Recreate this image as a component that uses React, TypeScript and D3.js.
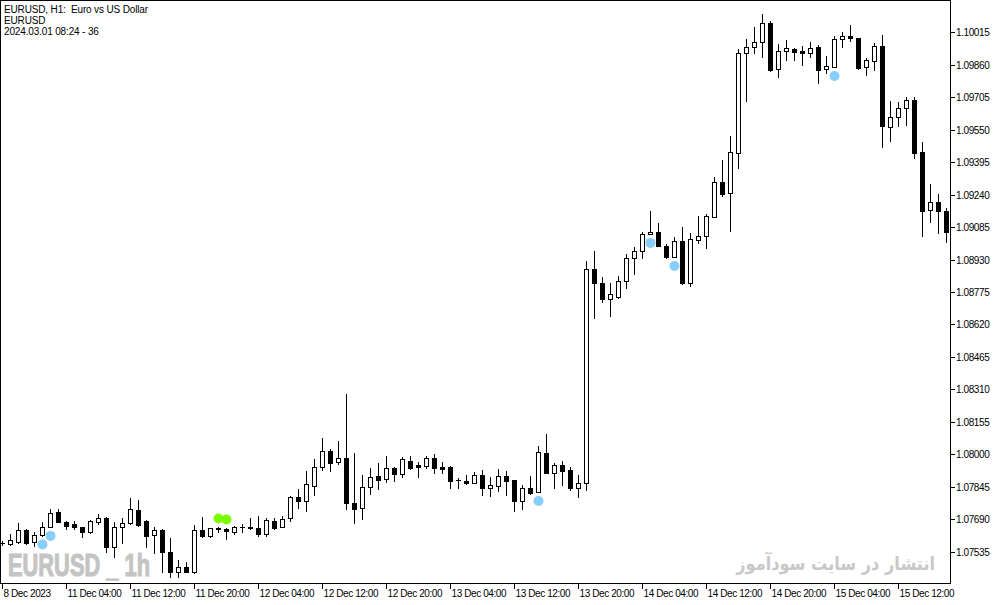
// App.tsx - EURUSD H1 candlestick chart (MT5 style)
import React, { useEffect, useRef } from "react"
import * as d3 from "d3"

// hourly bars from 8 Dec 2023 20:00 to 15 Dec 2023 18:00
const opens = [
    1.07576, 1.07571, 1.07582, 1.07639, 1.07582, 1.07615, 1.07653, 1.07724, 1.07677, 1.07667,
    1.07653, 1.07629, 1.07677, 1.07696, 1.07557, 1.07653, 1.07672, 1.07734, 1.07681, 1.07615,
    1.07639, 1.07533, 1.07438, 1.07462, 1.07438, 1.07639, 1.0761, 1.07648, 1.07643, 1.07629,
    1.07653, 1.07653, 1.07648, 1.0762, 1.07681, 1.07653, 1.07696, 1.07796, 1.07777, 1.07849,
    1.07939, 1.08015, 1.07963, 1.07982, 1.07767, 1.07743, 1.07844, 1.07896, 1.07882, 1.07934,
    1.07906, 1.07968, 1.07949, 1.07944, 1.07982, 1.07939, 1.07939, 1.07877, 1.07873, 1.07863,
    1.07901, 1.07839, 1.07849, 1.07896, 1.07877, 1.07777, 1.07839, 1.0782, 1.08006, 1.07911,
    1.07949, 1.07925, 1.07839, 1.07863, 1.08885, 1.08818, 1.08742, 1.08751, 1.08828, 1.08937,
    1.08971, 1.09052, 1.09062, 1.08995, 1.08942, 1.09019, 1.08818, 1.09023, 1.09042, 1.09133,
    1.093, 1.09248, 1.09439, 1.09917, 1.09945, 1.09969, 1.10059, 1.0984, 1.09926, 1.09936,
    1.09926, 1.09917, 1.09945, 1.0984, 1.09849, 1.09983, 1.09997, 1.09988, 1.09849, 1.09878,
    1.0995, 1.09563, 1.0961, 1.09653, 1.09692, 1.09444, 1.09166, 1.09205, 1.09161,
]
const highs = [
    1.07586, 1.0762, 1.07672, 1.07643, 1.07629, 1.07677, 1.07738, 1.07738, 1.07681, 1.07681,
    1.07655, 1.07686, 1.07715, 1.077, 1.07677, 1.07696, 1.07791, 1.07781, 1.07686, 1.07653,
    1.07642, 1.07601, 1.07495, 1.07485, 1.07662, 1.077, 1.0765, 1.07653, 1.07648, 1.07658,
    1.07667, 1.07696, 1.07705, 1.07696, 1.07696, 1.07705, 1.078, 1.07835, 1.0792, 1.07977,
    1.08078, 1.08025, 1.08064, 1.08288, 1.08006, 1.07901, 1.07934, 1.07958, 1.07991, 1.07939,
    1.07987, 1.07991, 1.07963, 1.07991, 1.08001, 1.07963, 1.07944, 1.07887, 1.07901, 1.07915,
    1.07925, 1.07892, 1.0793, 1.0792, 1.07879, 1.07854, 1.07896, 1.08039, 1.08097, 1.07958,
    1.07968, 1.07939, 1.07901, 1.08923, 1.08971, 1.08847, 1.08818, 1.08851, 1.08957, 1.0899,
    1.09062, 1.09161, 1.09104, 1.09004, 1.09038, 1.09085, 1.09057, 1.09138, 1.09147, 1.09324,
    1.09405, 1.0952, 1.09936, 1.09983, 1.1004, 1.10102, 1.10069, 1.09959, 1.09978, 1.0994,
    1.0995, 1.09969, 1.09955, 1.09902, 1.09997, 1.10016, 1.1005, 1.0999, 1.09893, 1.09964,
    1.10002, 1.09687, 1.09683, 1.09706, 1.09706, 1.09491, 1.09291, 1.09243, 1.09176,
]
const lows = [
    1.07566, 1.07566, 1.07576, 1.07571, 1.07562, 1.0761, 1.07651, 1.07675, 1.07643, 1.07643,
    1.07605, 1.07624, 1.07667, 1.07533, 1.07509, 1.07576, 1.07667, 1.0766, 1.07557, 1.07528,
    1.07438, 1.07414, 1.07414, 1.07436, 1.07433, 1.07605, 1.07605, 1.07629, 1.07596, 1.0762,
    1.07629, 1.07643, 1.0761, 1.0761, 1.07643, 1.07651, 1.07681, 1.07743, 1.07729, 1.07805,
    1.07925, 1.0792, 1.07953, 1.07738, 1.07672, 1.07691, 1.07811, 1.07835, 1.07868, 1.07873,
    1.07892, 1.07932, 1.07892, 1.07937, 1.07911, 1.07911, 1.07839, 1.07839, 1.07858, 1.07861,
    1.07805, 1.078, 1.07825, 1.07805, 1.07729, 1.07738, 1.07811, 1.07818, 1.07909, 1.07839,
    1.07854, 1.0783, 1.07796, 1.0783, 1.08651, 1.08727, 1.0866, 1.08747, 1.08794, 1.08861,
    1.08937, 1.0905, 1.08993, 1.08937, 1.0894, 1.08813, 1.08804, 1.09009, 1.08985, 1.09131,
    1.09234, 1.09066, 1.09367, 1.09687, 1.09917, 1.09898, 1.0983, 1.09801, 1.09882, 1.09882,
    1.09859, 1.09898, 1.09773, 1.0982, 1.09847, 1.09945, 1.09974, 1.0984, 1.09811, 1.09835,
    1.09468, 1.09496, 1.09567, 1.09572, 1.09414, 1.09042, 1.09109, 1.09057, 1.09014,
]
const closes = [
    1.07576, 1.07591, 1.07639, 1.07576, 1.07615, 1.07653, 1.07719, 1.07677, 1.07658, 1.07653,
    1.07629, 1.07681, 1.07696, 1.07557, 1.07653, 1.07672, 1.07738, 1.07662, 1.0761, 1.07639,
    1.07533, 1.07438, 1.07462, 1.07438, 1.07639, 1.0761, 1.07648, 1.07643, 1.07634, 1.07653,
    1.07652, 1.07648, 1.0762, 1.07686, 1.07648, 1.07691, 1.07796, 1.07777, 1.07858, 1.07939,
    1.08015, 1.07958, 1.07982, 1.07767, 1.07738, 1.07844, 1.07892, 1.07877, 1.07934, 1.07906,
    1.07977, 1.07934, 1.07939, 1.07982, 1.07934, 1.0793, 1.07873, 1.07876, 1.07863, 1.07901,
    1.07839, 1.07854, 1.07896, 1.07873, 1.07777, 1.07839, 1.07816, 1.0801, 1.07911, 1.07949,
    1.0792, 1.07839, 1.07863, 1.08885, 1.08818, 1.08742, 1.08766, 1.08828, 1.08937, 1.08971,
    1.09052, 1.09062, 1.08995, 1.08942, 1.09019, 1.08818, 1.09028, 1.09042, 1.09138, 1.093,
    1.09243, 1.09444, 1.09917, 1.09945, 1.09969, 1.10059, 1.09835, 1.09926, 1.0994, 1.09921,
    1.09917, 1.0994, 1.09835, 1.09854, 1.09983, 1.09997, 1.09988, 1.09844, 1.09882, 1.0995,
    1.09567, 1.0961, 1.09653, 1.09692, 1.09439, 1.09161, 1.09205, 1.09161, 1.09062,
]

// signal markers (bar indices)
const blueBelow = [5, 6, 67, 81, 84, 104]
const greenAbove = [27, 28]

// one label every 8 bars
const timeLabels = [
    "8 Dec 2023", "11 Dec 04:00", "11 Dec 12:00", "11 Dec 20:00", "12 Dec 04:00",
    "12 Dec 12:00", "12 Dec 20:00", "13 Dec 04:00", "13 Dec 12:00", "13 Dec 20:00",
    "14 Dec 04:00", "14 Dec 12:00", "14 Dec 20:00", "15 Dec 04:00", "15 Dec 12:00",
]
const priceTicks = [
    1.07535, 1.0769, 1.07845, 1.08, 1.08155, 1.0831, 1.08465, 1.0862, 1.08775,
    1.0893, 1.09085, 1.0924, 1.09395, 1.0955, 1.09705, 1.0986, 1.10015,
]

const headerLines = ["EURUSD, H1:  Euro vs US Dollar", "EURUSD", "2024.03.01 08:24 - 36"]

const W = 1003
const H = 605
const plotRight = 950
const plotBottom = 583
const axisFont = "'Liberation Sans', Arial, sans-serif"

export default function App() {
    const ref = useRef<SVGSVGElement>(null)

    useEffect(() => {
        const svg = d3.select(ref.current)
        svg.selectAll("*").remove()

        const x = d3.scaleLinear().domain([0, opens.length - 1]).range([2, 946])
        const y = d3.scaleLinear().domain([1.07535, 1.10015]).range([551.7, 32.3])

        svg.append("rect").attr("width", W).attr("height", H).attr("fill", "#fff")

        // watermarks
        svg.append("text")
            .attr("x", 8)
            .attr("y", 576)
            .attr("textLength", 142)
            .attr("lengthAdjust", "spacingAndGlyphs")
            .style("white-space", "pre")
            .attr("font-family", axisFont)
            .attr("font-weight", "bold")
            .attr("font-size", 32)
            .attr("fill", "#c4c4c4")
            .attr("stroke", "#c4c4c4")
            .attr("stroke-width", 1.2)
            .text("EURUSD _ 1h")

        svg.append("text")
            .attr("transform", "translate(935,570) scale(0.85,1)")
            .attr("text-anchor", "end")
            .attr("font-family", "'DejaVu Sans', sans-serif")
            .attr("font-weight", "bold")
            .attr("font-size", 19)
            .attr("fill", "#c8c8c8")
            .text("انتشار در سایت سودآموز")

        // header
        svg.append("g")
            .selectAll("text")
            .data(headerLines)
            .join("text")
            .attr("x", 4)
            .attr("y", (_, i) => 13 + i * 11)
            .style("white-space", "pre")
            .attr("font-family", axisFont)
            .attr("font-size", 10)
            .attr("letter-spacing", -0.15)
            .attr("fill", "#000")
            .text((d) => d)

        // candles
        const bars = d3.range(opens.length)
        const g = svg.append("g")
        g.selectAll("line.wick")
            .data(bars)
            .join("line")
            .attr("class", "wick")
            .attr("x1", (i) => x(i) + 0.5)
            .attr("x2", (i) => x(i) + 0.5)
            .attr("y1", (i) => Math.round(y(highs[i])))
            .attr("y2", (i) => Math.round(y(lows[i])) + 1)
            .attr("stroke", "#000")
            .attr("stroke-width", 1)

        bars.forEach((i) => {
            const top = Math.round(y(Math.max(opens[i], closes[i])))
            const bot = Math.round(y(Math.min(opens[i], closes[i])))
            const up = closes[i] > opens[i]
            if (up && bot - top >= 2) {
                g.append("rect")
                    .attr("x", x(i) - 1.5)
                    .attr("y", top + 0.5)
                    .attr("width", 4)
                    .attr("height", bot - top)
                    .attr("fill", "#fff")
                    .attr("stroke", "#000")
                    .attr("stroke-width", 1)
            } else {
                g.append("rect")
                    .attr("x", x(i) - 2)
                    .attr("y", top)
                    .attr("width", 5)
                    .attr("height", Math.max(1, bot - top + 1))
                    .attr("fill", "#000")
            }
        })

        // signal dots
        svg.append("g")
            .selectAll("circle")
            .data(blueBelow)
            .join("circle")
            .attr("cx", (i) => x(i) + 0.5)
            .attr("cy", (i) => y(lows[i]) + 8.5)
            .attr("r", 5)
            .attr("fill", "#87cefa")
        svg.append("g")
            .selectAll("circle")
            .data(greenAbove)
            .join("circle")
            .attr("cx", (i) => x(i) + 0.5)
            .attr("cy", (i) => y(highs[i]) - 8.5)
            .attr("r", 5)
            .attr("fill", "#7cfc00")

        // frame
        svg.append("rect")
            .attr("x", 0.5)
            .attr("y", 0.5)
            .attr("width", plotRight)
            .attr("height", plotBottom)
            .attr("fill", "none")
            .attr("stroke", "#000")

        // price axis
        const py = svg.append("g")
        priceTicks.forEach((t) => {
            const yy = Math.round(y(t)) + 0.5
            py.append("line")
                .attr("x1", plotRight)
                .attr("x2", plotRight + 5)
                .attr("y1", yy)
                .attr("y2", yy)
                .attr("stroke", "#000")
            py.append("text")
                .attr("x", plotRight + 6)
                .attr("y", yy + 3.5)
                .attr("font-family", axisFont)
                .attr("font-size", 10)
                .attr("letter-spacing", -0.4)
                .text(t.toFixed(5))
        })

        // time axis
        const tx = svg.append("g")
        timeLabels.forEach((label, k) => {
            const xx = x(k * 8) + 0.5
            tx.append("line")
                .attr("x1", xx)
                .attr("x2", xx)
                .attr("y1", plotBottom)
                .attr("y2", plotBottom + 6)
                .attr("stroke", "#000")
            tx.append("text")
                .attr("x", xx + 1)
                .attr("y", 597)
                .attr("font-family", axisFont)
                .attr("font-size", 10)
                .attr("letter-spacing", -0.4)
                .text(label)
        })
    }, [])

    return (
        <svg
            ref={ref}
            width={W}
            height={H}
            style={{ position: "absolute", left: 0, top: 0, display: "block" }}
        />
    )
}
